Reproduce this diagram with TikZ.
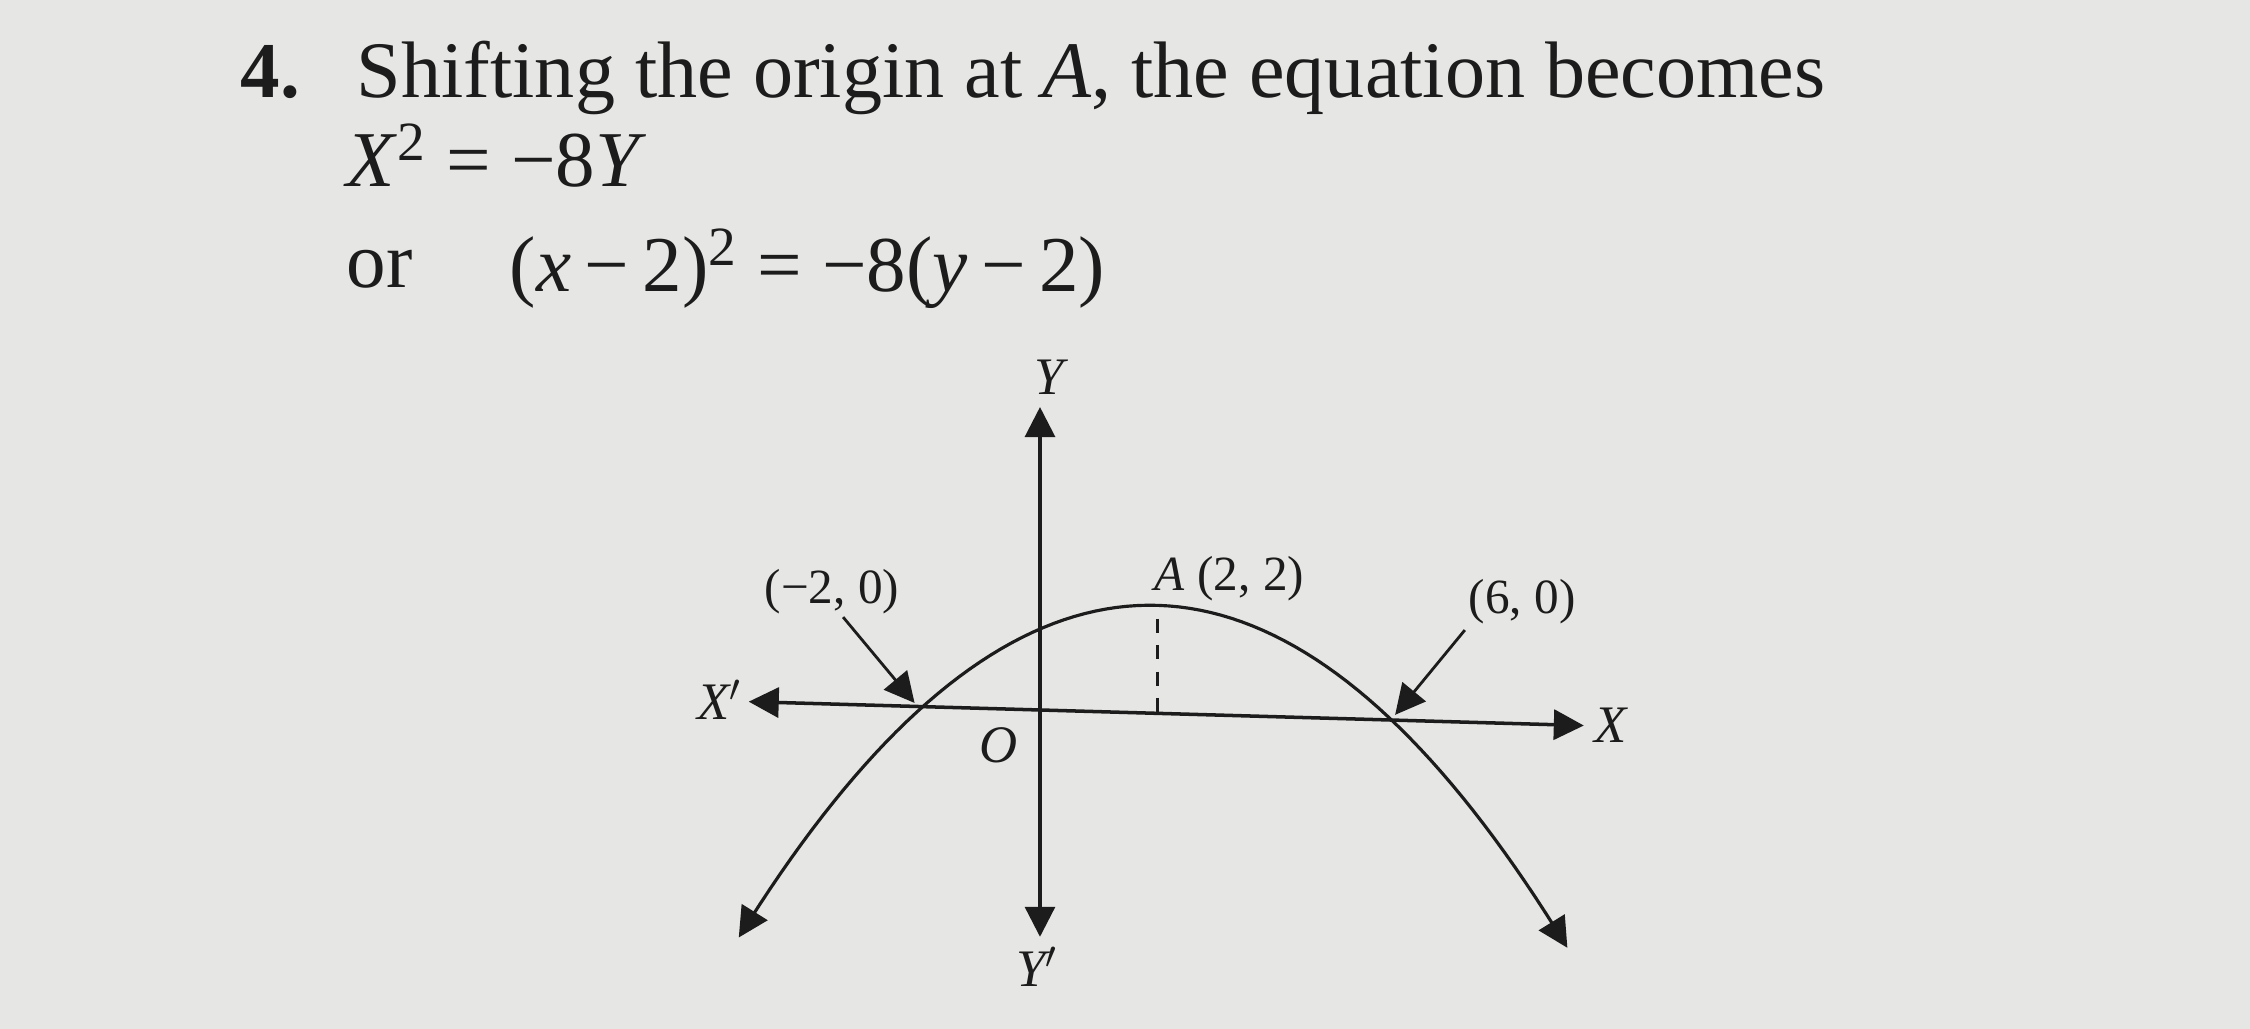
\documentclass[tikz,border=0pt]{standalone}
\usepackage{fontspec}
\setmainfont{Liberation Serif}
\usetikzlibrary{arrows.meta, positioning}
\definecolor{paper}{RGB}{230,230,228}
\definecolor{ink}{RGB}{28,28,28}

\begin{document}
\begin{tikzpicture}[x=0.586cm, y=0.54cm, >={Triangle[length=3mm, width=3mm]},
  every node/.style={text=ink, inner sep=0pt},
  head/.style={font=\fontsize{22.5}{27}\selectfont, anchor=base west},
  lbl/.style={font=\fontsize{14}{16}\selectfont},
  axlbl/.style={font=\fontsize{15}{17}\selectfont\itshape}]
\useasboundingbox (-17.747,-5.907) rectangle (20.648,13.148);
\fill[paper] (-17.747,-5.907) rectangle (20.648,13.148);
% question text
\node[head, font=\fontsize{22.5}{27}\selectfont\bfseries] (qnum) at (-13.65,11.35) {4.};
\node[head, font=\fontsize{22.8}{27}\selectfont] (qline) at (-11.67,11.35) {Shifting the origin at \textit{A}, the equation becomes};
\node[head] (qnew) at (-11.84,9.69) {\textit{X}\textsuperscript{2} = −8\textit{Y}};
\node[head] (qor) at (-11.84,7.83) {or};
\node[head] (qold) at (-9.06,7.75) {(\textit{x}\hspace{0.17em}−\hspace{0.17em}2)\textsuperscript{2} = −8(\textit{y}\hspace{0.17em}−\hspace{0.17em}2)};
% axes and curve, slightly tilted as printed
\begin{scope}[cm={1,-0.0286,0,1,(0,0)}]
\coordinate (O) at (0,0);
\coordinate (xneg) at (-4.97,0);
\coordinate (xpos) at (9.28,0);
\coordinate (ytop) at (0,5.61);
\coordinate (ybot) at (0,-4.2);
\draw[ink, line width=1pt, <->] (xneg) -- (xpos);
\draw[ink, line width=0.9pt, <->] (ybot) -- (ytop);
% parabola (x-2)^2 = -8(y-2)
\draw[ink, line width=0.9pt, <->] plot[domain=-5.14:9.0, samples=80] (\x, {2-(\x-2)^2/8});
\coordinate (A) at (2,2);
\coordinate (Atop) at (2,1.75);
\coordinate (Afoot) at (2,0);
\draw[ink, line width=0.8pt, dash pattern=on 4pt off 3.5pt] (Atop) -- (Afoot);
\end{scope}
\node[axlbl] (lxneg) at (-5.46,0.19) {X$'$};
\node[axlbl] (lxpos) at (9.73,-0.28) {X};
\node[axlbl] (lytop) at (0.15,6.17) {Y};
\node[axlbl] (lybot) at (-0.05,-4.76) {Y$'$};
\node[axlbl] (lO) at (-0.70,-0.65) {O};
% point labels
\node[lbl] (lm2) at (-3.55,2.2) {(−2, 0)};
\node[lbl, anchor=west] (lA) at (1.95,2.44) {\textit{A} (2, 2)};
\node[lbl] (lp6) at (8.23,2.0) {(6, 0)};
\coordinate (m2tail) at (-3.36,1.72);
\coordinate (m2tip) at (-2.14,0.13);
\coordinate (p6tail) at (7.25,1.48);
\coordinate (p6tip) at (6.06,-0.09);
\draw[ink, line width=0.8pt, ->] (m2tail) -- (m2tip);
\draw[ink, line width=0.8pt, ->] (p6tail) -- (p6tip);
\end{tikzpicture}
\end{document}
